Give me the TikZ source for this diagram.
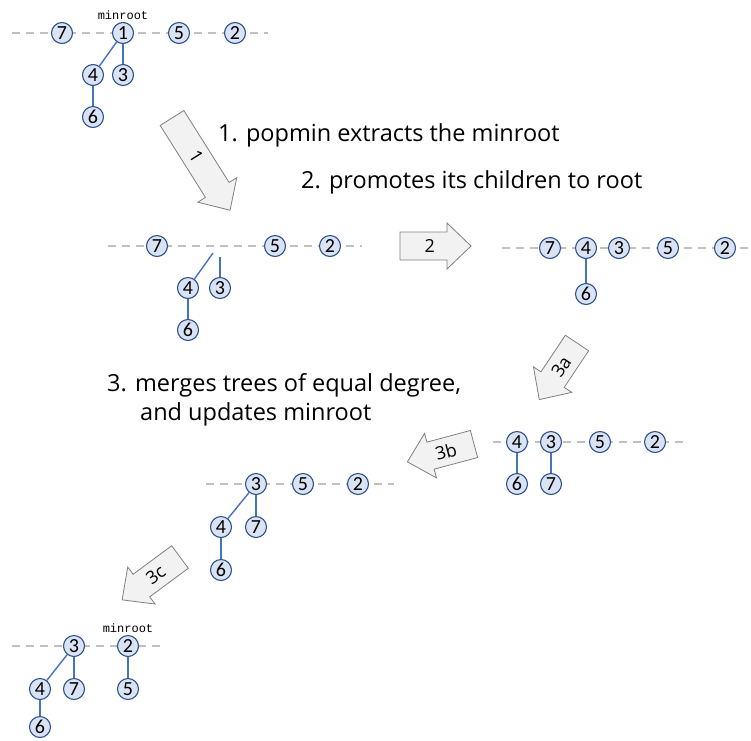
\documentclass[tikz,border=0pt]{standalone}
\usepackage{fontspec}
\setmainfont{Carlito}
\newfontfamily\handfont{Open Sans}
\newfontfamily\monofont{Liberation Mono}
\definecolor{nodefill}{HTML}{DAE3F3}
\definecolor{nodedraw}{HTML}{2F528F}
\definecolor{edgeblue}{HTML}{4472C4}
\definecolor{dashgray}{HTML}{C0C0C0}
\definecolor{arrowfill}{HTML}{F2F2F2}
\definecolor{arrowdraw}{HTML}{808080}
\tikzset{
  hn/.style={circle, draw=nodedraw, fill=nodefill, line width=1.1pt, minimum size=21pt, inner sep=0pt, font=\fontsize{20}{20}\selectfont},
  edge/.style={draw=edgeblue, line width=1.4pt},
  rootline/.style={draw=dashgray, line width=1.4pt, dash pattern=on 8pt off 6pt},
  arrowbox/.style={draw=arrowdraw, fill=arrowfill, line width=0.8pt, line join=miter},
  steptext/.style={font=\handfont\fontsize{23.5}{23.5}\selectfont, inner sep=0pt, anchor=west},
  arrowlabel/.style={font=\handfont\fontsize{18}{18}\selectfont, inner sep=0pt},
  minlabel/.style={font=\monofont\fontsize{12}{12}\selectfont, inner sep=0pt}
}
% #1 name, #2 x, #3 y (tail middle), #4 angle, #5 length, #6 label, #7 label rotation
\newcommand{\blockarrow}[7]{%
  \begin{scope}[shift={(#2,#3)}, rotate=#4]
    \draw[arrowbox] (0,-14) -- (#5-24,-14) -- (#5-24,-23) -- (#5,0) -- (#5-24,23) -- (#5-24,14) -- (0,14) -- cycle;
    \node[arrowlabel, rotate=#7] (#1) at (0.42*#5,0) {#6};
  \end{scope}}
\begin{document}
\begin{tikzpicture}[x=1pt, y=-1pt]
\useasboundingbox (0,0) rectangle (751,740);

% ---------- tree 1 ----------
\coordinate (l1a) at (12,33); \coordinate (l1b) at (268,33);
\draw[rootline] (l1a) -- (l1b);
\node[hn] (a7) at (62,33) {7};
\node[hn] (a1) at (123,33) {1};
\node[hn] (a5) at (179,33) {5};
\node[hn] (a2) at (235,33) {2};
\node[hn] (a4) at (93,75) {4};
\node[hn] (a3) at (123,75) {3};
\node[hn] (a6) at (93,117) {6};
\node[minlabel] (m1) at (123,15) {minroot};
\draw[edge] (a1) -- (a4);
\draw[edge] (a1) -- (a3);
\draw[edge] (a4) -- (a6);

% ---------- tree 2 ----------
\coordinate (l2a) at (108,246); \coordinate (l2b) at (362,246);
\draw[rootline] (l2a) -- (l2b);
\node[hn] (b7) at (157,246) {7};
\node[hn] (b5) at (275,246) {5};
\node[hn] (b2) at (330,246) {2};
\node[hn] (b4) at (188,288) {4};
\node[hn] (b3) at (220,288) {3};
\node[hn] (b6) at (188,330) {6};
\coordinate (bc4) at (213,253);
\coordinate (bc3) at (220,257);
\draw[edge] (bc4) -- (b4);
\draw[edge] (bc3) -- (b3);
\draw[edge] (b4) -- (b6);

% ---------- tree 3 ----------
\coordinate (l3a) at (502,248); \coordinate (l3b) at (748,248);
\draw[rootline] (l3a) -- (l3b);
\node[hn] (c7) at (550,248) {7};
\node[hn] (c4) at (586,248) {4};
\node[hn] (c3) at (619,248) {3};
\node[hn] (c5) at (668,248) {5};
\node[hn] (c2) at (725,248) {2};
\node[hn] (c6) at (586,294) {6};
\draw[edge] (c4) -- (c6);

% ---------- tree 4 ----------
\coordinate (l4a) at (493,442); \coordinate (l4b) at (686,442);
\draw[rootline] (l4a) -- (l4b);
\node[hn] (d4) at (517,442) {4};
\node[hn] (d3) at (551,442) {3};
\node[hn] (d5) at (600,442) {5};
\node[hn] (d2) at (655,442) {2};
\node[hn] (d6) at (517,484) {6};
\node[hn] (d7) at (551,484) {7};
\draw[edge] (d4) -- (d6);
\draw[edge] (d3) -- (d7);

% ---------- tree 5 ----------
\coordinate (l5a) at (206,484); \coordinate (l5b) at (394,484);
\draw[rootline] (l5a) -- (l5b);
\node[hn] (e3) at (256,484) {3};
\node[hn] (e5) at (303,484) {5};
\node[hn] (e2) at (358,484) {2};
\node[hn] (e4) at (221,527) {4};
\node[hn] (e7) at (256,527) {7};
\node[hn] (e6) at (221,570) {6};
\draw[edge] (e3) -- (e4);
\draw[edge] (e3) -- (e7);
\draw[edge] (e4) -- (e6);

% ---------- tree 6 ----------
\coordinate (l6a) at (12,646); \coordinate (l6b) at (163,646);
\draw[rootline] (l6a) -- (l6b);
\node[hn] (f3) at (74,646) {3};
\node[hn] (f2) at (128,646) {2};
\node[hn] (f4) at (40,689) {4};
\node[hn] (f7) at (74,689) {7};
\node[hn] (f5) at (128,689) {5};
\node[hn] (f6) at (40,727) {6};
\node[minlabel] (m6) at (128,628) {minroot};
\draw[edge] (f3) -- (f4);
\draw[edge] (f3) -- (f7);
\draw[edge] (f4) -- (f6);
\draw[edge] (f2) -- (f5);

% ---------- arrows ----------
\blockarrow{ar1}{172}{118}{-57.8}{109}{1}{-57.8}
\blockarrow{ar2}{400}{246}{0}{71}{2}{0}
\blockarrow{ar3a}{577}{343}{236.3}{68}{3a}{56.3}
\blockarrow{ar3b}{474}{444}{195}{69}{3b}{15}
\blockarrow{ar3c}{180}{557}{216.5}{72}{3c}{36.5}

% ---------- texts ----------
\node[steptext] (t1) at (218,135) {1. popmin extracts the minroot};
\node[steptext] (t2) at (301,182) {2. promotes its children to root};
\node[steptext] (t3) at (107,385) {3. merges trees of equal degree,};
\node[steptext] (t4) at (140,414) {and updates minroot};
\end{tikzpicture}
\end{document}
